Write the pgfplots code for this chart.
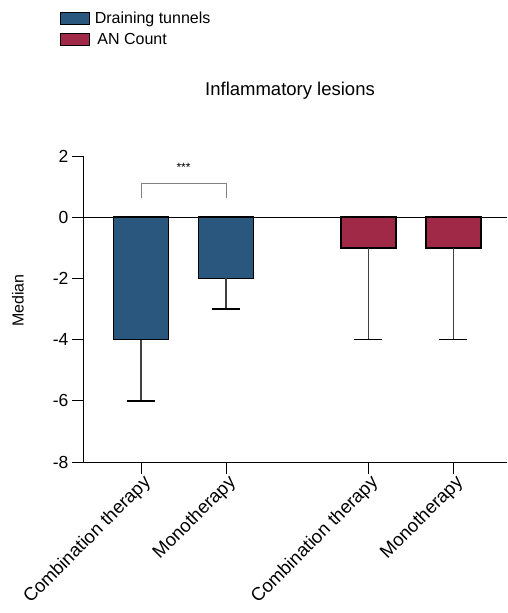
\documentclass[border=0pt]{standalone}
\usepackage{fontspec}
\setmainfont{Liberation Sans}
\usepackage{pgfplots}
\pgfplotsset{compat=1.18}
\definecolor{dtblue}{RGB}{42,87,125}
\definecolor{ancol}{RGB}{160,41,71}
\begin{document}
\begin{tikzpicture}
\useasboundingbox (0,0) rectangle (507pt,-613pt);
\begin{axis}[
  scale only axis, width=423pt, height=306pt,
  at={(84pt,-462pt)}, anchor=south west,
  xmin=0.329, xmax=5.306, ymin=-8, ymax=2,
  clip=false,
  axis x line*=bottom, axis y line*=left,
  axis line style={-, line width=1pt, black},
  tick align=outside, major tick length=12pt,
  tick style={line width=1pt, black},
  xtick={1,2,3.676,4.676},
  xticklabels={Combination therapy, Monotherapy, Combination therapy, Monotherapy},
  ytick={-8,-6,-4,-2,0,2},
  yticklabel={\pgfmathprintnumber{\tick}},
  /pgf/number format/assume math mode=true,
  ticklabel style={font=\fontsize{17.5}{20}\selectfont},
  x tick label style={font=\fontsize{18.5}{21}\selectfont, rotate=45, anchor=east, inner sep=1pt, xshift=2pt, yshift=-9pt},
  ylabel={Median},
  ylabel style={font=\fontsize{16}{19}\selectfont, at={(rel axis cs:-0.156,0.527)}, anchor=center, rotate=0},
  title={Inflammatory lesions},
  title style={font=\fontsize{18.5}{22}\selectfont, at={(rel axis cs:0.487,1.193)}, anchor=center},
  legend style={at={(rel axis cs:-0.064,1.485)}, anchor=north west, draw=none, fill=none,
    font=\fontsize{16}{19}\selectfont, row sep=4pt, cells={anchor=west}},
]
\addplot[ybar, bar width=55pt, bar shift=0pt, fill=dtblue, draw=black, line width=1.5pt,
  legend image code/.code={\draw[fill=dtblue,draw=black,line width=1pt] (0pt,-6pt) rectangle (29pt,6pt);},
  error bars/.cd, y dir=minus, y explicit,
  error bar style={line width=1.5pt, black!75},
  error mark options={rotate=90, mark size=14pt, line width=1.5pt, black}]
  coordinates {(1,-4) -= (0,2) (2,-2) -= (0,1)};
\addlegendentry{\,Draining tunnels}
\addplot[ybar, bar width=55pt, bar shift=0pt, fill=ancol, draw=black, line width=1.5pt,
  legend image code/.code={\draw[fill=ancol,draw=black,line width=1pt] (0pt,-6pt) rectangle (29pt,6pt);},
  error bars/.cd, y dir=minus, y explicit,
  error bar style={line width=1.5pt, black!75},
  error mark options={rotate=90, mark size=14pt, line width=1.5pt, black}]
  coordinates {(3.676,-1) -= (0,3) (4.676,-1) -= (0,3)};
\addlegendentry{\,\,AN Count}
\addplot[black, line width=1pt, forget plot] coordinates {(0.329,0) (5.306,0)};
\draw[gray, line width=1pt] (axis cs:1,0.62) -- (axis cs:1,1.11) -- (axis cs:2,1.11) -- (axis cs:2,0.62);
\node[font=\fontsize{12}{14}\selectfont] at (axis cs:1.5,1.62) {***};
\end{axis}
\end{tikzpicture}
\end{document}
